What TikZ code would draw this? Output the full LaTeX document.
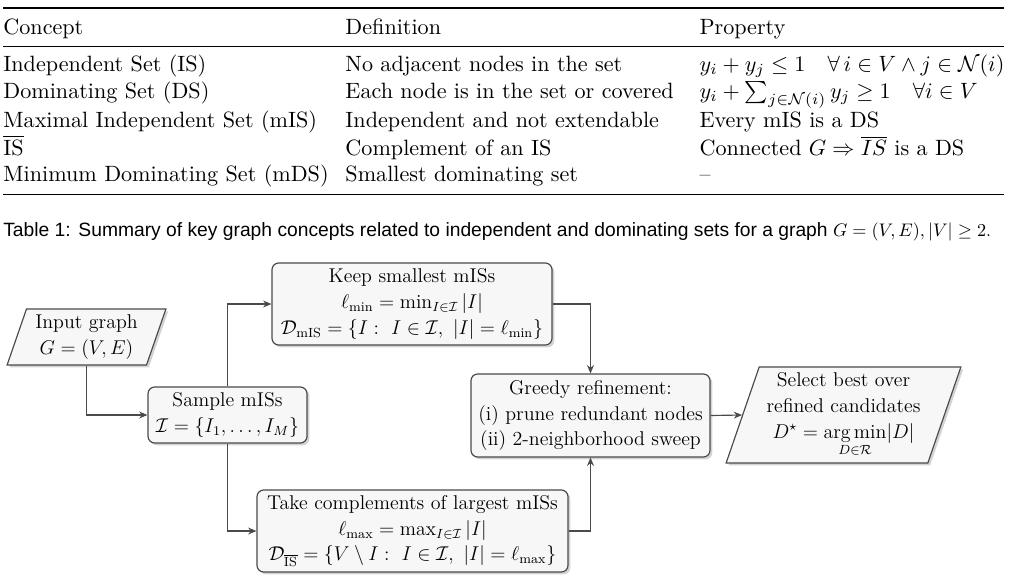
\documentclass[tikz,border=0pt]{standalone}
\usepackage{amsmath,amssymb,booktabs,array}
\usepackage{fontspec}
\usetikzlibrary{arrows.meta,shapes.geometric,shadows}
\newfontfamily\capfont{Liberation Sans}
\definecolor{ink}{HTML}{4A4A4A}
\definecolor{paper}{HTML}{F7F7F7}
\newlength\px
\setlength\px{0.6024pt}

\begin{document}
\begin{tikzpicture}[x=0.6024pt,y=-0.6024pt,>={Stealth[length=5pt,width=4.2pt]},
  box/.style={draw=ink,line width=0.7pt,fill=paper,rounded corners=4pt,align=center,inner sep=2pt,
    drop shadow={shadow xshift=1.4pt,shadow yshift=-1.4pt,opacity=0.35},font=\fontsize{12}{15.5}\selectfont},
  slant/.style={box,rounded corners=0pt,trapezium,trapezium left angle=71,trapezium right angle=109,trapezium stretches=true},
  link/.style={->,draw=ink,line width=0.7pt}]
\useasboundingbox (0,0) rectangle (1014,584);
\node[anchor=north west,inner sep=0pt,scale=1.333] (tab) at (3,7) {\setlength\tabcolsep{0pt}%
\begin{tabular}{p{256.6\px}p{265.6\px}l}
\toprule
Concept & Definition & Property \\
\midrule
Independent Set (IS) & No adjacent nodes in the set & $y_i + y_j \leq 1 \quad \forall\, i \in V \land j \in \mathcal{N}(i)$ \\
Dominating Set (DS) & Each node is in the set or covered & $y_i + \sum_{j\in\mathcal{N}(i)} y_j \geq 1 \quad \forall i \in V$ \\
Maximal Independent Set (mIS) & Independent and not extendable & Every mIS is a DS \\
$\overline{\text{IS}}$ & Complement of an IS & Connected $G \Rightarrow \overline{IS}$ is a DS \\
Minimum Dominating Set (mDS) & Smallest dominating set & -- \\
\bottomrule
\end{tabular}};
\node[anchor=base west,inner sep=0pt] (cap) at (3,236) {{\fontsize{11.6}{14}\capfont Table 1:\hspace{0.4em}Summary of key graph concepts related to independent and dominating sets for a graph }{\fontsize{10.6}{13}\selectfont$G=(V,E), |V|\geq 2$.}};
\node[slant,minimum width=159\px,minimum height=56\px] (input) at (86.5,337) {Input graph\\$G=(V,E)$};
\node[box,minimum width=159\px,minimum height=56\px] (sample) at (227.5,415) {Sample mISs\\$\mathcal{I}=\{I_1,\dots,I_M\}$};
\node[box,minimum width=280\px,minimum height=82\px] (keep) at (412,304) {Keep smallest mISs\\$\ell_{\min}=\min_{I\in\mathcal{I}}|I|$\\$\mathcal{D}_{\mathrm{mIS}}=\{I:\ I\in\mathcal{I},\ |I|=\ell_{\min}\}$};
\node[box,minimum width=311\px,minimum height=82\px] (take) at (412.5,531) {Take complements of largest mISs\\$\ell_{\max}=\max_{I\in\mathcal{I}}|I|$\\$\mathcal{D}_{\overline{\mathrm{IS}}}=\{V\setminus I:\ I\in\mathcal{I},\ |I|=\ell_{\max}\}$};
\node[box,minimum width=239\px,minimum height=83\px] (greedy) at (590.5,415.5) {Greedy refinement:\\(i) prune redundant nodes\\(ii) 2-neighborhood sweep};
\node[slant,minimum width=235\px,minimum height=96\px] (select) at (843.5,415) {Select best over\\refined candidates\\$D^{\star}=\mathop{\arg\min}\limits_{D\in\mathcal{R}}\!|D|$};
\draw[link] (input.south) |- (sample.west);
\draw[link] (sample.north) |- (keep.west);
\draw[link] (sample.south) |- (take.west);
\draw[link] (keep.east) -| (greedy.north);
\draw[link] (take.east) -| (greedy.south);
\draw[link] (greedy.east) -- (select.west);
\end{tikzpicture}
\end{document}
